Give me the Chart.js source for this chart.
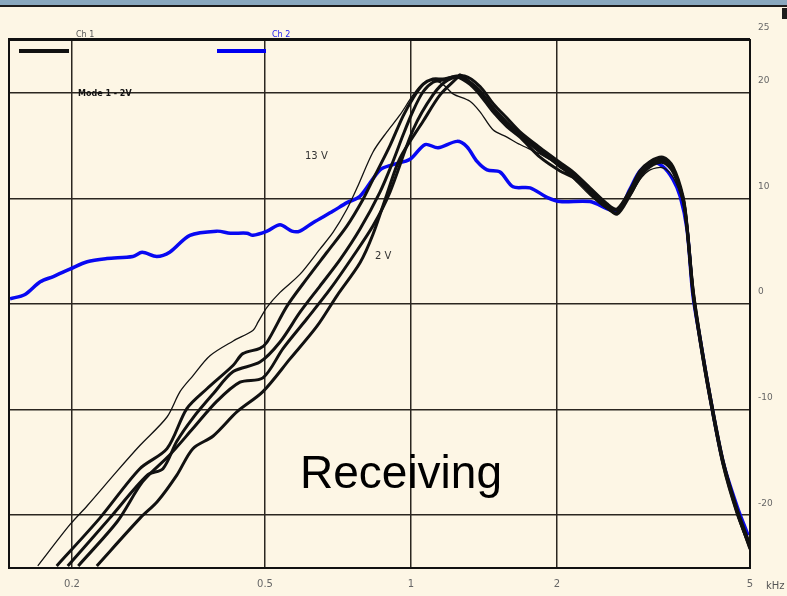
<!DOCTYPE html>
<html>
<head>
<meta charset="utf-8">
<script src="https://cdn.jsdelivr.net/npm/chart.js@4.4.1/dist/chart.umd.min.js"></script>
<style>
body{margin:0;background:#fdf6e5;}
#wrap{width:787px;height:596px;}
</style>
</head>
<body>
<div id="wrap"><canvas id="respChart" width="787" height="596"></canvas></div>
<script>
// Receiving response, kHz vs dB

const xTicks = [0.2, 0.5, 1, 2, 5];
const xTickLabels = ["0.2", "0.5", "1", "2", "5"];
const yTicks = [25, 20, 10, 0, -10, -20];
const yTickLabels = ["25", "20", "10", "0", "-10", "-20"];

const seriesNames = ["Ch 1", "Ch 2"];

// [kHz, dB]
const curve13V = [[0.170,-24.8],[0.198,-20.9],[0.215,-19.1],[0.248,-15.8],[0.276,-13.4],[0.314,-10.7],[0.334,-8.3],[0.355,-6.8],[0.385,-4.9],[0.430,-3.5],[0.472,-2.5],[0.484,-1.7],[0.505,-0.3],[0.537,1.1],[0.590,2.8],[0.649,5.2],[0.691,6.8],[0.738,9.0],[0.774,11.0],[0.835,14.4],[0.892,16.3],[0.949,17.9],[1.010,19.8],[1.059,20.9],[1.110,21.2],[1.164,20.8],[1.221,19.9],[1.323,19.2],[1.388,18.2],[1.476,16.5],[1.577,15.8],[1.678,15.1],[1.845,14.2],[2.029,13.0],[2.158,11.9],[2.339,10.3],[2.536,9.0],[2.660,8.7],[2.829,10.2],[2.967,11.8],[3.111,12.7],[3.308,12.9],[3.469,12.0],[3.638,9.6],[3.708,7.0],[3.815,1.2],[3.944,-3.4],[4.136,-8.8],[4.399,-15.0],[4.701,-19.5],[5.0,-23.0]];
const curveB = [[0.186,-24.8],[0.228,-20.3],[0.276,-15.6],[0.314,-13.7],[0.345,-9.9],[0.380,-8.0],[0.430,-5.8],[0.450,-4.7],[0.488,-4.2],[0.505,-3.6],[0.555,-0.2],[0.610,2.4],[0.671,4.9],[0.738,7.4],[0.796,9.9],[0.835,11.8],[0.905,15.0],[0.963,17.8],[1.010,19.5],[1.059,20.8],[1.110,21.3],[1.164,21.3],[1.244,21.5],[1.323,20.8],[1.388,19.8],[1.476,18.2],[1.577,16.8],[1.678,15.8],[1.845,13.9],[2.029,12.6],[2.158,12.0],[2.339,10.6],[2.536,9.2],[2.660,8.5],[2.829,10.3],[2.967,12.0],[3.111,13.0],[3.308,13.4],[3.469,12.5],[3.638,9.8],[3.708,7.1],[3.815,1.0],[3.944,-3.5],[4.136,-9.0],[4.399,-15.2],[4.701,-19.8],[5.0,-23.0]];
const curveC = [[0.196,-24.8],[0.239,-20.3],[0.286,-16.2],[0.308,-15.6],[0.329,-13.0],[0.355,-10.8],[0.391,-8.5],[0.430,-6.4],[0.488,-5.5],[0.537,-3.6],[0.590,-0.8],[0.649,1.7],[0.714,4.2],[0.785,7.1],[0.863,10.6],[0.918,13.5],[0.963,16.0],[1.010,18.3],[1.059,20.1],[1.110,21.0],[1.164,21.2],[1.244,21.6],[1.323,21.0],[1.388,20.2],[1.476,18.6],[1.577,17.2],[1.678,16.0],[1.845,14.4],[2.029,13.2],[2.158,12.3],[2.339,10.9],[2.536,9.4],[2.660,8.9],[2.829,10.6],[2.967,12.3],[3.111,13.3],[3.308,13.6],[3.469,12.8],[3.638,10.0],[3.708,7.3],[3.815,1.3],[3.944,-3.2],[4.136,-8.7],[4.399,-14.9],[4.701,-19.4],[5.0,-22.8]];
const curveD = [[0.206,-24.8],[0.248,-20.6],[0.280,-16.8],[0.318,-14.3],[0.355,-11.8],[0.398,-9.2],[0.444,-7.4],[0.495,-7.0],[0.545,-4.2],[0.610,-1.4],[0.681,1.4],[0.759,4.5],[0.835,7.4],[0.905,10.6],[1.010,16.5],[1.110,19.8],[1.190,21.2],[1.290,21.6],[1.388,20.6],[1.476,19.0],[1.577,17.6],[1.678,16.3],[1.845,14.8],[2.029,13.4],[2.158,12.5],[2.339,11.0],[2.536,9.5],[2.660,9.0],[2.829,10.8],[2.967,12.6],[3.111,13.5],[3.308,13.9],[3.469,13.0],[3.638,10.2],[3.708,7.4],[3.815,1.4],[3.944,-3.1],[4.136,-8.6],[4.399,-14.8],[4.701,-19.6],[5.0,-23.2]];
const curve2V = [[0.225,-24.8],[0.276,-20.3],[0.300,-18.7],[0.329,-16.2],[0.355,-13.7],[0.391,-12.5],[0.438,-10.2],[0.495,-8.3],[0.563,-5.2],[0.640,-2.1],[0.704,0.8],[0.785,3.9],[0.835,6.6],[0.892,10.4],[0.949,13.8],[1.059,17.3],[1.148,19.8],[1.244,21.4],[1.262,21.7],[1.323,21.0],[1.388,20.0],[1.476,18.4],[1.577,17.0],[1.678,16.0],[1.845,14.6],[2.029,13.0],[2.158,12.2],[2.339,10.5],[2.536,9.1],[2.660,8.6],[2.829,10.5],[2.967,12.2],[3.111,13.2],[3.308,13.7],[3.469,12.7],[3.638,10.0],[3.708,7.2],[3.815,1.1],[3.944,-3.4],[4.136,-8.9],[4.399,-15.1],[4.701,-19.7],[5.0,-23.1]];
const blueCurve = [[0.149,0.5],[0.160,0.9],[0.172,2.1],[0.183,2.6],[0.198,3.3],[0.215,4.0],[0.236,4.3],[0.267,4.5],[0.279,4.9],[0.299,4.5],[0.318,4.9],[0.350,6.5],[0.398,6.9],[0.424,6.7],[0.459,6.7],[0.472,6.5],[0.505,6.9],[0.537,7.5],[0.568,6.9],[0.590,6.9],[0.628,7.7],[0.691,8.8],[0.738,9.6],[0.785,10.2],[0.863,12.7],[0.918,13.2],[0.995,13.7],[1.069,15.1],[1.137,14.8],[1.244,15.4],[1.304,14.9],[1.368,13.5],[1.435,12.7],[1.526,12.5],[1.623,11.1],[1.760,11.0],[1.907,10.1],[2.029,9.7],[2.339,9.7],[2.660,8.8],[2.830,10.9],[2.966,12.6],[3.155,13.4],[3.311,13.0],[3.468,11.8],[3.589,10.2],[3.707,7.1],[3.814,0.8],[3.945,-3.3],[4.133,-8.7],[4.397,-14.9],[4.698,-19.1],[4.954,-21.9]];

const CREAM = "#fdf6e5";
const GRID = "#2b2620";

function toPts(arr){
  return arr.map(p => ({x:p[0], y:p[1]}));
}

function line(arr, color, width){
  return {
    data: toPts(arr),
    borderColor: color,
    borderWidth: width,
    pointRadius: 0,
    tension: 0.3,
    fill: false
  };
}

const decor = {
  id: 'decor',
  beforeDraw(chart){
    const c = chart.ctx;
    c.save();
    c.fillStyle = CREAM;
    c.fillRect(0, 0, chart.width, chart.height);
    c.fillStyle = "#89a8bf";
    c.fillRect(0, 0, chart.width, 5);
    c.fillStyle = "#1d1d1d";
    c.fillRect(0, 5, chart.width, 2);
    c.fillRect(782, 8, 5, 11);
    c.restore();
  },
  afterDraw(chart){
    const c = chart.ctx;
    const a = chart.chartArea;
    c.save();
    // frame
    c.strokeStyle = "#111";
    c.lineWidth = 2;
    c.strokeRect(a.left - 1, a.top, a.right - a.left + 1, a.bottom - a.top);
    c.fillStyle = "#111";
    c.fillRect(a.left - 2, a.top - 2, a.right - a.left + 2, 3);

    // legend
    c.fillRect(19, 49, 50, 4);
    c.fillStyle = "#0000f0";
    c.fillRect(217, 49, 49, 4);
    c.font = "8px 'DejaVu Sans'";
    c.textBaseline = "alphabetic";
    c.fillStyle = "#555";
    c.fillText(seriesNames[0], 76, 37);
    c.fillStyle = "#2020f0";
    c.fillText(seriesNames[1], 272, 37);
    c.fillStyle = "#111";
    c.font = "bold 8px 'DejaVu Sans'";
    c.fillText("Mode 1 - 2V", 78, 96);

    // curve notes
    c.font = "10px 'DejaVu Sans'";
    c.fillStyle = "#333";
    c.fillText("13 V", 305, 159);
    c.fillText("2 V", 375, 259);

    // unit
    c.fillStyle = "#555";
    c.fillText("kHz", 766, 589);

    // big title
    c.fillStyle = "#000";
    c.font = "46px 'Liberation Sans', Arial";
    c.fillText("Receiving", 300, 488);
    c.restore();
  }
};

new Chart(document.getElementById('respChart'), {
  type: 'line',
  data: {
    datasets: [
      line(curve13V, "#111", 1.3),
      line(curveB, "#111", 3),
      line(curveC, "#111", 3),
      line(curveD, "#111", 3),
      line(curve2V, "#111", 3),
      line(blueCurve, "#0808f2", 3.5)
    ]
  },
  options: {
    responsive: false,
    animation: false,
    layout: {padding: {left: 10, top: 40, right: 0, bottom: 0}},
    plugins: {
      legend: {display: false},
      tooltip: {enabled: false}
    },
    scales: {
      x: {
        type: 'logarithmic',
        position: 'bottom',
        min: 0.149,
        max: 5,
        afterBuildTicks: s => { s.ticks = xTicks.map(v => ({value: v})); },
        afterFit: s => { s.height = 28; },
        ticks: {
          autoSkip: false,
          maxRotation: 0,
          padding: 10,
          color: "#666",
          font: {size: 10, family: "DejaVu Sans"},
          callback: (v, i) => xTickLabels[i]
        },
        grid: {color: GRID, lineWidth: 1.5, drawTicks: false},
        border: {display: false}
      },
      y: {
        type: 'linear',
        position: 'right',
        min: -25,
        max: 25,
        afterBuildTicks: s => { s.ticks = yTicks.map(v => ({value: v})); },
        afterFit: s => { s.width = 37; },
        ticks: {
          autoSkip: false,
          padding: 8,
          labelOffset: -12,
          color: "#666",
          font: {size: 9, family: "DejaVu Sans"},
          callback: (v, i) => yTickLabels[i]
        },
        grid: {color: GRID, lineWidth: 1.5, drawTicks: false},
        border: {display: false}
      }
    }
  },
  plugins: [decor]
});
</script>
</body>
</html>
